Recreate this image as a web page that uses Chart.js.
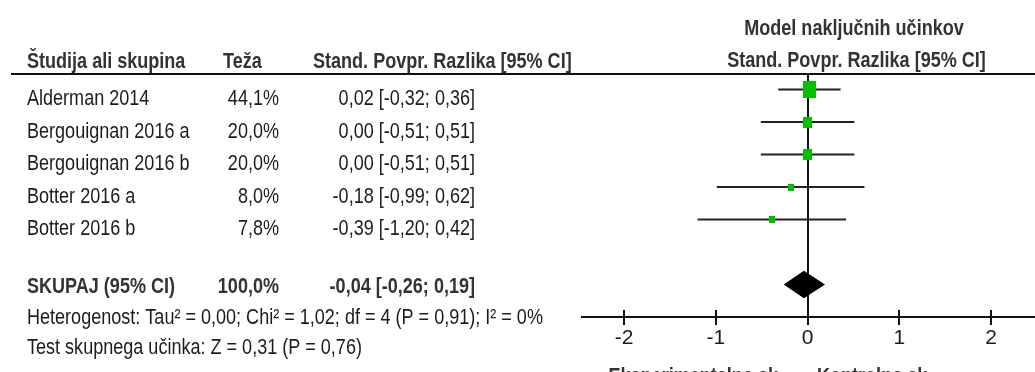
<!DOCTYPE html>
<html>
<head>
<meta charset="utf-8">
<script src="https://cdn.jsdelivr.net/npm/chart.js@4.4.1/dist/chart.umd.min.js"></script>
<style>
  html, body { margin: 0; padding: 0; background: #fff; }
  canvas { display: block; }
</style>
</head>
<body>
<canvas id="forest" width="1035" height="372"></canvas>
<script>
// Studies, weights and standardised mean differences with 95% CI
const studies = ['Alderman 2014', 'Bergouignan 2016 a', 'Bergouignan 2016 b', 'Botter 2016 a', 'Botter 2016 b'];
const weights = [44.1, 20.0, 20.0, 8.0, 7.8];
const smd     = [0.02, 0.00, 0.00, -0.18, -0.39];
const ciLow   = [-0.32, -0.51, -0.51, -0.99, -1.20];
const ciHigh  = [0.36, 0.51, 0.51, 0.62, 0.42];

// Pooled (random effects) estimate
const pooledLabel  = 'SKUPAJ (95% CI)';
const pooledWeight = 100.0;
const pooledSmd    = -0.04;
const pooledLow    = -0.26;
const pooledHigh   = 0.19;
const pooledRow    = 6;

const heterogeneityText = 'Heterogenost: Tau\u00b2 = 0,00; Chi\u00b2 = 1,02; df = 4 (P = 0,91); I\u00b2 = 0%';
const overallTestText   = 'Test skupnega u\u010dinka: Z = 0,31 (P = 0,76)';

// Axis ticks
const tickValues = [-2, -1, 0, 1, 2];
const tickLabels = ['-2', '-1', '0', '1', '2'];

const FONT = "'Liberation Sans', Arial, sans-serif";
const NARROW = 0.82;   // condensed lettering
const GREEN = '#00c000';
const dec = (v, d) => v.toFixed(d).replace('.', ',');
const ciText = (e, l, h) => `${dec(e, 2)} [${dec(l, 2)}; ${dec(h, 2)}]`;

function drawText(ctx, s, x, y, align, bold, color) {
  ctx.save();
  ctx.font = (bold ? 'bold ' : '') + '22px ' + FONT;
  ctx.textAlign = align;
  ctx.textBaseline = 'alphabetic';
  ctx.fillStyle = color;
  ctx.translate(x, y);
  ctx.scale(NARROW, 1);
  ctx.fillText(s, 0, 0);
  ctx.restore();
}

// Weight-sized square marker
function squareFor(w) {
  const c = document.createElement('canvas');
  c.width = Math.max(4, Math.round(2.0 * Math.sqrt(w)));
  c.height = Math.max(5, Math.round(2.5 * Math.sqrt(w)));
  const g = c.getContext('2d');
  g.fillStyle = GREEN;
  g.fillRect(0, 0, c.width, c.height);
  return c;
}
const squares = weights.map(squareFor);

const forestPlugin = {
  id: 'forestPlugin',
  beforeDatasetsDraw(chart) {
    const { ctx, chartArea, scales: { x } } = chart;
    ctx.save();
    ctx.fillStyle = '#111';
    // column header rule
    ctx.fillRect(11, chartArea.top - 1, chart.width - 11, 2);
    // line of no effect
    const x0 = Math.round(x.getPixelForValue(0));
    ctx.fillRect(x0 - 1, chartArea.top, 2, chartArea.bottom - chartArea.top);
    // upper halves of the axis tick marks
    tickValues.forEach(v => {
      const px = Math.round(x.getPixelForValue(v));
      ctx.fillRect(px - 1, chartArea.bottom - 7, 2, 7);
    });
    ctx.restore();
  },
  afterDatasetsDraw(chart) {
    const { ctx, scales: { x, y } } = chart;
    ctx.save();
    // pooled diamond
    const yc = y.getPixelForValue(pooledRow);
    ctx.beginPath();
    ctx.moveTo(x.getPixelForValue(pooledLow), yc);
    ctx.lineTo(x.getPixelForValue(pooledSmd), yc - 13.8);
    ctx.lineTo(x.getPixelForValue(pooledHigh), yc);
    ctx.lineTo(x.getPixelForValue(pooledSmd), yc + 13.8);
    ctx.closePath();
    ctx.fillStyle = '#000';
    ctx.fill();
    ctx.restore();
  },
  afterDraw(chart) {
    const { ctx, scales: { y } } = chart;
    const HEAD = '#333';
    const BODY = '#1c1c1c';
    // headers
    drawText(ctx, '\u0160tudija ali skupina', 27, 68, 'left', true, HEAD);
    drawText(ctx, 'Te\u017ea', 223, 68, 'left', true, HEAD);
    drawText(ctx, 'Stand. Povpr. Razlika [95% CI]', 313, 68, 'left', true, HEAD);
    drawText(ctx, 'Model naklju\u010dnih u\u010dinkov', 854, 35, 'center', true, HEAD);
    drawText(ctx, 'Stand. Povpr. Razlika [95% CI]', 856.5, 67, 'center', true, HEAD);
    // study rows
    studies.forEach((s, i) => {
      const base = y.getPixelForValue(i) + 15.5;
      drawText(ctx, s, 27, base, 'left', false, BODY);
      drawText(ctx, dec(weights[i], 1) + '%', 279, base, 'right', false, BODY);
      drawText(ctx, ciText(smd[i], ciLow[i], ciHigh[i]), 475, base, 'right', false, BODY);
    });
    // pooled row
    const pb = y.getPixelForValue(pooledRow) + 8.8;
    drawText(ctx, pooledLabel, 27, pb, 'left', true, HEAD);
    drawText(ctx, dec(pooledWeight, 1) + '%', 279, pb, 'right', true, HEAD);
    drawText(ctx, ciText(pooledSmd, pooledLow, pooledHigh), 475, pb, 'right', true, HEAD);
    drawText(ctx, heterogeneityText, 27, 323.5, 'left', false, BODY);
    drawText(ctx, overallTestText, 27, 353.5, 'left', false, BODY);
    // favours labels under the axis
    drawText(ctx, 'Eksperimentalna sk.', 783, 383, 'right', true, HEAD);
    drawText(ctx, 'Kontrolna sk.', 817, 383, 'left', true, HEAD);
  }
};

const whiskerSets = studies.map((s, i) => ({
  label: s,
  data: [{ x: ciLow[i], y: i }, { x: ciHigh[i], y: i }],
  showLine: true,
  borderColor: '#222',
  borderWidth: 2,
  pointRadius: 0,
  order: 2
}));

const markerSet = {
  label: 'SMD',
  data: smd.map((v, i) => ({ x: v, y: i })),
  pointStyle: ctx => squares[ctx.dataIndex],
  pointRadius: 8,
  order: 1
};

new Chart(document.getElementById('forest'), {
  type: 'scatter',
  data: { datasets: [markerSet, ...whiskerSets] },
  options: {
    responsive: false,
    animation: false,
    events: [],
    layout: { autoPadding: false, padding: { left: 582, right: 0, top: 74, bottom: 0 } },
    plugins: { legend: { display: false }, tooltip: { enabled: false } },
    scales: {
      x: {
        type: 'linear',
        position: 'bottom',
        min: -2.46,
        max: 2.48,
        afterBuildTicks: scale => { scale.ticks = tickValues.map(v => ({ value: v })); },
        afterFit: scale => { scale.height = 55; },
        border: { display: true, color: '#111', width: 2 },
        grid: { drawOnChartArea: false, drawTicks: true, tickLength: 8, color: '#111', lineWidth: 2 },
        ticks: {
          padding: 1,
          color: '#1c1c1c',
          font: { family: FONT, size: 21 },
          callback: (v, i) => tickLabels[i]
        }
      },
      y: {
        type: 'linear',
        display: false,
        reverse: true,
        min: -0.48,
        max: 7.0
      }
    }
  },
  plugins: [forestPlugin]
});
</script>
</body>
</html>
